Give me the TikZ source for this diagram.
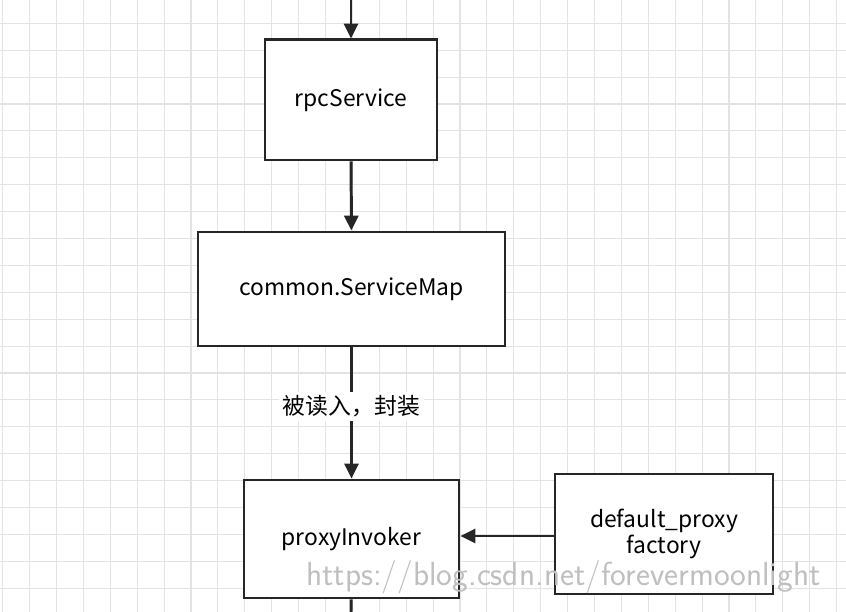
\documentclass[tikz,border=0pt]{standalone}
\usepackage{fontspec}
\setmainfont{Noto Sans CJK SC}
\usetikzlibrary{arrows.meta,positioning}

\begin{document}
\begin{tikzpicture}[x=0.02cm,y=0.02cm,
	box/.style={draw=black!85,line width=1.7pt,fill=white,inner sep=0pt,align=center,font=\fontsize{13}{14.5}\selectfont},
	flow/.style={draw=black!85,line width=1.7pt,-{Triangle[length=8.5pt,width=8pt]}},
	descr/.style={fill=white,inner sep=2pt,font=\fontsize{13}{16}\selectfont}]
	\useasboundingbox (0,0) rectangle (846,612);
	\fill[white] (0,0) rectangle (846,612);
	% grid
	\foreach \i in {0,...,31}
		\draw[black!11,line width=0.6pt] (2.7+26.9*\i,0) -- (2.7+26.9*\i,612);
	\foreach \j in {0,...,22}
		\draw[black!11,line width=0.6pt] (0,612-23.3-26.9*\j) -- (846,612-23.3-26.9*\j);
	% boxes
	\node[box,minimum width=172*0.02cm,minimum height=120*0.02cm] (rpc) at (351,512) {rpcService};
	\node[box,minimum width=307*0.02cm,minimum height=114*0.02cm] (map) at (351.5,323) {common.ServiceMap};
	\node[box,minimum width=215*0.02cm,minimum height=118*0.02cm] (invoker) at (351.5,73) {proxyInvoker};
	\node[box,minimum width=218*0.02cm,minimum height=120*0.02cm] (factory) at (664,78) {default\_proxy\\factory};
	\coordinate (top) at (351,612);
	\coordinate (bottom) at (351,0);
	% connectors
	\path[flow] (top) -- (rpc);
	\path[flow] (rpc) -- (map);
	\path[flow] (map) -- node[descr,pos=0.45] {被读入，封装} (invoker);
	\path[flow] (factory.west |- 0,76) -- (invoker.east |- 0,76);
	\draw[black!85,line width=1.7pt] (invoker) -- (bottom);
	% watermark
	\node[text=black!25,font=\fontsize{19}{22}\selectfont\sffamily,anchor=west] (mark) at (300,35) {https://blog.csdn.net/forevermoonlight};
\end{tikzpicture}
\end{document}
